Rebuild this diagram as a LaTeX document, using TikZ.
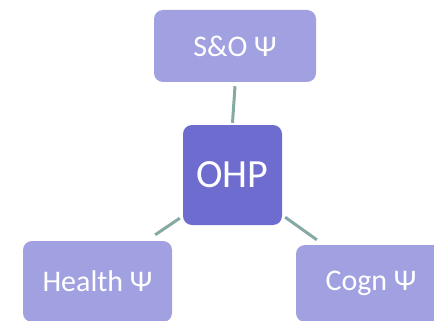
\documentclass[tikz,border=0pt]{standalone}
\usepackage{fontspec}
\setmainfont{Carlito}
\definecolor{boxlight}{RGB}{161,160,224}
\definecolor{boxdark}{RGB}{111,108,208}
\definecolor{connc}{RGB}{133,170,163}
\tikzset{
  box/.style={rectangle, rounded corners=9pt, draw=none, inner sep=0pt,
    text=white, font=\fontsize{30}{30}\selectfont},
  lightbox/.style={box, fill=boxlight},
  darkbox/.style={box, fill=boxdark, font=\fontsize{40}{40}\selectfont},
  conn/.style={draw=connc, line width=3pt}
}
\begin{document}
\begin{tikzpicture}[x=1pt,y=-1pt]
\useasboundingbox (0,0) rectangle (434,321);
\clip (0,0) rectangle (434,321);
\node[lightbox, minimum width=162pt, minimum height=72pt] (sno) at (235,46) {S\&O Ψ};
\node[darkbox, minimum width=99pt, minimum height=100pt] (ohp) at (232.5,175) {OHP};
\node[lightbox, minimum width=149pt, minimum height=81pt] (health) at (97.5,281.5) {Health Ψ};
\node[lightbox, minimum width=150pt, minimum height=77pt] (cogn) at (371,283.5) {Cogn Ψ};
\draw[conn] ([shift={(0,4)}]sno.south) -- ([shift={(0,-2)}]ohp.north);
\draw[conn] ([shift={(-3,-7)}]ohp.south west) -- ([shift={(-17,-6)}]health.north east);
\draw[conn] ([shift={(3,-8)}]ohp.south east) -- ([shift={(21,-5)}]cogn.north west);
\end{tikzpicture}
\end{document}
